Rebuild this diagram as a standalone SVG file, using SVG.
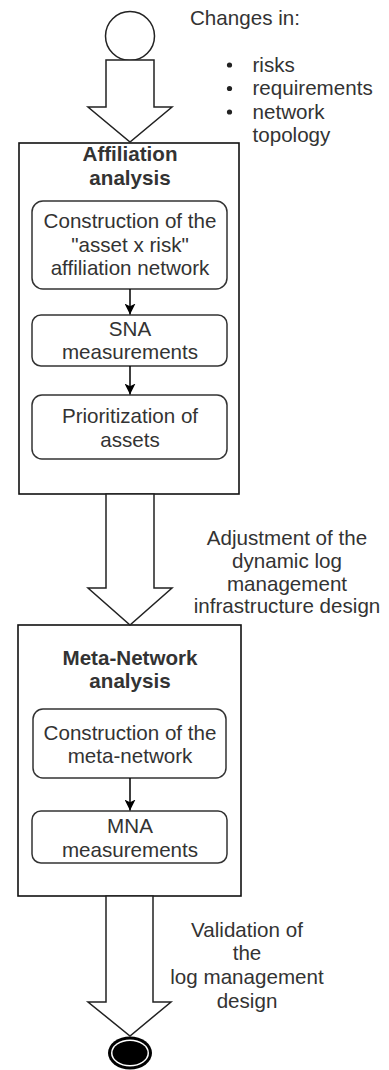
<svg xmlns="http://www.w3.org/2000/svg" width="389" height="1070" viewBox="0 0 389 1070">
<style>
text{font-family:"Liberation Sans",Arial,sans-serif;font-size:20.6px;fill:#333}
.c{text-anchor:middle}
.b{font-weight:bold}
.outer{fill:#fff;stroke:#111;stroke-width:1.6}
.inner{fill:#fff;stroke:#333;stroke-width:1.5}
.big{fill:#fff;stroke:#222;stroke-width:1.5;stroke-linejoin:miter}
.conn{stroke:#000;stroke-width:1.5;fill:none}
</style>
<defs>
<marker id="ah" viewBox="0 0 10 10" refX="10" refY="5" markerWidth="11" markerHeight="11" markerUnits="userSpaceOnUse" orient="auto">
<path d="M0,0 L10,5 L0,10 L2.5,5 Z" fill="#000"/>
</marker>
</defs>
<g id="start"><circle cx="130" cy="36" r="24.5" fill="#fff" stroke="#222" stroke-width="1.5"/></g>
<g id="affiliation">
<rect class="outer" x="19" y="143" width="220" height="351"/>
<text class="c b" x="130" y="161">Affiliation</text>
<text class="c b" x="130" y="185">analysis</text>
</g>
<g id="construction1">
<rect class="inner" x="32" y="201" width="195" height="88" rx="11"/>
<text class="c" x="130" y="228">Construction of the</text>
<text class="c" x="130" y="252">"asset x risk"</text>
<text class="c" x="130" y="275">affiliation network</text>
</g>
<g id="sna">
<rect class="inner" x="32" y="315" width="195" height="51" rx="9"/>
<text class="c" x="130" y="336">SNA</text>
<text class="c" x="130" y="359">measurements</text>
</g>
<g id="prior">
<rect class="inner" x="32" y="395" width="195" height="64" rx="10"/>
<text class="c" x="130" y="423">Prioritization of</text>
<text class="c" x="130" y="447">assets</text>
</g>
<g id="meta">
<rect class="outer" x="18" y="625" width="223" height="271"/>
<text class="c b" x="130" y="665">Meta-Network</text>
<text class="c b" x="130" y="688">analysis</text>
</g>
<g id="construction2">
<rect class="inner" x="33" y="709" width="193" height="69" rx="10"/>
<text class="c" x="130" y="740">Construction of the</text>
<text class="c" x="130" y="763">meta-network</text>
</g>
<g id="mna">
<rect class="inner" x="32" y="811" width="195" height="52" rx="9"/>
<text class="c" x="130" y="833">MNA</text>
<text class="c" x="130" y="857">measurements</text>
</g>
<g id="end">
<ellipse cx="130" cy="1053" rx="22" ry="16.5" fill="#000"/>
<ellipse cx="130" cy="1053" rx="19" ry="13.5" fill="#fff"/>
<ellipse cx="130" cy="1053" rx="17.5" ry="12" fill="#000"/>
</g>
<g id="connectors">
<polygon class="big" points="106,60 154,60 154,107 172,107 130,142 88,107 106,107"/>
<polygon class="big" points="106,494 154,494 154,588 172,588 130,625 88,588 106,588"/>
<polygon class="big" points="106,896 153,896 153,1002 171,1002 130,1036 88,1002 106,1002"/>
<line class="conn" x1="130" y1="289" x2="130" y2="314.5" marker-end="url(#ah)"/>
<line class="conn" x1="130" y1="366" x2="130" y2="394.5" marker-end="url(#ah)"/>
<line class="conn" x1="130" y1="778" x2="130" y2="810.5" marker-end="url(#ah)"/>
</g>
<g id="labels">
<text x="190" y="25">Changes in:</text>
<circle cx="229.5" cy="65" r="2.6" fill="#222"/>
<circle cx="229.5" cy="88.5" r="2.6" fill="#222"/>
<circle cx="229.5" cy="112" r="2.6" fill="#222"/>
<text x="252.5" y="71.5">risks</text>
<text x="252.5" y="95">requirements</text>
<text x="252.5" y="118.5">network</text>
<text x="252.5" y="142">topology</text>
<text class="c" x="287" y="545">Adjustment of the</text>
<text class="c" x="287" y="568">dynamic log</text>
<text class="c" x="287" y="591">management</text>
<text class="c" x="287" y="613">infrastructure design</text>
<text class="c" x="247" y="937">Validation of</text>
<text class="c" x="247" y="960">the</text>
<text class="c" x="247" y="984">log management</text>
<text class="c" x="247" y="1008">design</text>
</g>
</svg>
